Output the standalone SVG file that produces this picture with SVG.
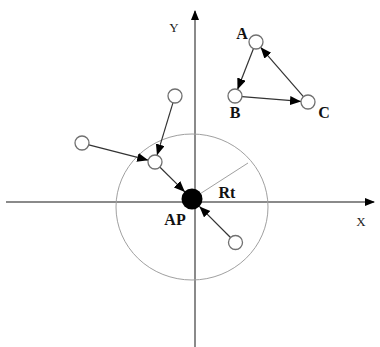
<svg xmlns="http://www.w3.org/2000/svg" width="380" height="347" viewBox="0 0 380 347">
<style>
.axis{stroke:#8a8a8a;stroke-width:2;fill:none}
.range{stroke:#a0a0a0;stroke-width:1;fill:none}
.node{fill:#fff;stroke:#707070;stroke-width:1.3}
.edge{stroke:#333;stroke-width:1.2;fill:none;marker-end:url(#ah)}
.lbl{font-family:"Liberation Serif",serif;font-weight:bold;font-size:16px;fill:#111;text-anchor:middle}
.axl{font-family:"Liberation Serif",serif;font-size:13px;fill:#222;text-anchor:middle}
</style>
<defs>
<marker id="ah" markerUnits="userSpaceOnUse" markerWidth="12" markerHeight="10" refX="11" refY="4.5" orient="auto">
<path d="M0,0 L11,4.5 L0,9 z" fill="#000"/>
</marker>
<marker id="axh" markerUnits="userSpaceOnUse" markerWidth="11" markerHeight="9" refX="9" refY="4" orient="auto">
<path d="M0,0 L10,4 L0,8 z" fill="#000"/>
</marker>
</defs>
<rect width="380" height="347" fill="#fff"/>
<g id="axes">
<line class="axis" x1="6" y1="202" x2="374" y2="202" marker-end="url(#axh)"/>
<line class="axis" x1="195" y1="347" x2="195" y2="11" marker-end="url(#axh)"/>
<text class="axl" x="361" y="226">X</text>
<text class="axl" x="174" y="32">Y</text>
</g>
<g id="range">
<ellipse class="range" cx="192" cy="207" rx="76" ry="73"/>
<line class="range" x1="192" y1="199" x2="248" y2="163"/>
<text class="lbl" x="227" y="198">Rt</text>
</g>
<g id="connectors">
<line class="edge" x1="173" y1="102.7" x2="157" y2="155.3"/>
<line class="edge" x1="88.8" y1="144.8" x2="148.2" y2="160.2"/>
<line class="edge" x1="160" y1="167.3" x2="184.9" y2="191.9"/>
<line class="edge" x1="230.5" y1="237.5" x2="199.4" y2="206.4"/>
<line class="edge" x1="253.5" y1="48.5" x2="237.5" y2="89.5"/>
<line class="edge" x1="242" y1="96.6" x2="301" y2="101.4"/>
<line class="edge" x1="303.4" y1="96.7" x2="260.6" y2="47.3"/>
</g>
<g id="AP"><circle cx="192" cy="199" r="10.5" fill="#000"/><text class="lbl" x="175" y="225">AP</text></g>
<g id="n1"><circle class="node" cx="175" cy="96" r="7"/></g>
<g id="n2"><circle class="node" cx="82" cy="143" r="7"/></g>
<g id="n3"><circle class="node" cx="155" cy="162" r="7"/></g>
<g id="n4"><circle class="node" cx="235.5" cy="242.5" r="7"/></g>
<g id="A"><circle class="node" cx="256" cy="42" r="7"/><text class="lbl" x="242" y="39">A</text></g>
<g id="B"><circle class="node" cx="235" cy="96" r="7"/><text class="lbl" x="235" y="118">B</text></g>
<g id="C"><circle class="node" cx="308" cy="102" r="7"/><text class="lbl" x="324" y="118">C</text></g>
</svg>
